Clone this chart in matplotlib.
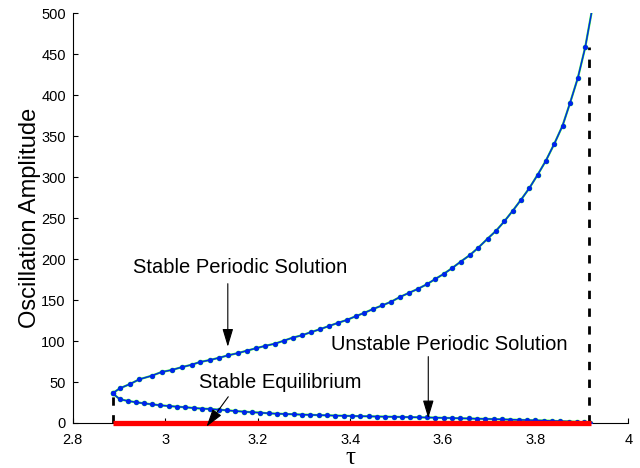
import numpy as np
import matplotlib.pyplot as plt

plt.rcParams['font.family'] = ['Liberation Sans', 'DejaVu Sans']

# upper (stable periodic) branch
tau_up = [2.886, 2.902, 2.924, 2.944, 2.971, 2.992, 3.014, 3.035, 3.057, 3.075,
          3.097, 3.117, 3.136, 3.158, 3.176, 3.196, 3.215, 3.237, 3.256, 3.275,
          3.295, 3.314, 3.334, 3.354, 3.372, 3.392, 3.411, 3.429, 3.449, 3.469,
          3.488, 3.507, 3.526, 3.545, 3.565, 3.583, 3.601, 3.620, 3.638, 3.658,
          3.676, 3.696, 3.714, 3.732, 3.750, 3.768, 3.786, 3.804, 3.822, 3.840,
          3.858, 3.874, 3.891, 3.907]
amp_up = [36.2, 42.3, 47.6, 53.3, 57.7, 62.2, 64.7, 68.0, 71.1, 74.4,
          76.9, 79.7, 82.6, 85.4, 88.2, 91.2, 94.0, 96.8, 100.4, 104.1,
          107.0, 110.7, 114.4, 118.4, 122.0, 125.7, 130.2, 134.2, 139.1, 143.6,
          148.0, 153.8, 158.7, 163.5, 169.3, 175.7, 181.8, 189.2, 196.9, 205.0,
          213.9, 224.9, 234.3, 245.9, 258.7, 272.2, 286.4, 302.7, 320.1, 340.5,
          362.8, 390.2, 421.0, 458.5]
tau_up_end = 3.921
amp_up_end = 502

# lower (unstable periodic) branch
tau_lo = [2.886, 2.902, 2.920, 2.937, 2.953, 2.971, 2.989, 3.007, 3.025, 3.043,
          3.061, 3.079, 3.097, 3.115, 3.133, 3.151, 3.169, 3.187, 3.205, 3.223,
          3.241, 3.259, 3.277, 3.295, 3.313, 3.331, 3.349, 3.367, 3.385, 3.403,
          3.421, 3.439, 3.457, 3.475, 3.493, 3.511, 3.529, 3.547, 3.565, 3.583,
          3.601, 3.619, 3.637, 3.655, 3.673, 3.691, 3.709, 3.727, 3.745, 3.763,
          3.781, 3.799, 3.817, 3.835, 3.853, 3.871, 3.889, 3.905, 3.918]
amp_lo = [36.2, 28.9, 26.8, 25.3, 24.0, 22.8, 21.6, 20.7, 19.9, 19.2,
          18.3, 17.5, 17.1, 16.2, 15.5, 14.6, 13.8, 13.1, 12.6, 11.8,
          11.3, 11.0, 10.6, 10.2, 9.9, 9.6, 9.3, 9.0, 8.8, 8.5,
          8.3, 8.1, 7.9, 7.7, 7.5, 7.3, 7.1, 6.9, 6.7, 6.5,
          6.2, 6.0, 5.7, 5.5, 5.2, 5.0, 4.7, 4.4, 4.1, 3.8,
          3.5, 3.2, 2.9, 2.6, 2.2, 1.8, 1.3, 0.8, 0.2]

# stable equilibrium and bifurcation markers
tau_eq = [2.886, 3.92]
amp_eq = [0, 0]
tau_fold = 2.886
amp_fold = 34
tau_hopf = 3.915
amp_hopf = 458.5

fig = plt.figure(figsize=(6.4, 4.68), dpi=100)
ax = fig.add_axes([0.1136, 0.0962, 0.8681, 0.8754])

ax.plot(tau_up + [tau_up_end], amp_up + [amp_up_end], color='#33ee33', lw=1.6, zorder=2)
ax.plot(tau_up, amp_up, ls='', marker='o', ms=3, color='#33ee33', zorder=2)
ax.plot(tau_lo, amp_lo, color='#33ee33', lw=1.6, marker='o', ms=3, zorder=2)
ax.plot(tau_up + [tau_up_end], amp_up + [amp_up_end], color='#0022ee', lw=1, zorder=3)
ax.plot(tau_up, amp_up, ls='', marker='o', ms=2.6, color='#0022ee', zorder=3)
ax.plot(tau_lo, amp_lo, color='#0022ee', lw=1, marker='o', ms=2.6, zorder=3)

ax.plot([tau_fold, tau_fold], [0, amp_fold], color='black', lw=2, dashes=(3, 3.4), zorder=4)
ax.plot([tau_hopf, tau_hopf], [0, amp_hopf], color='black', lw=2, dashes=(3, 3.4), zorder=4)
ax.plot(tau_eq, amp_eq, color='#ff0000', lw=3.8, solid_capstyle='butt', zorder=5, clip_on=False)

arrow = dict(arrowstyle='-|>,head_length=1.1,head_width=0.33', color='black', lw=0.8,
             shrinkA=0, shrinkB=0, mutation_scale=10)
ax.text(3.161, 189.8, 'Stable Periodic Solution', ha='center', va='center', fontsize=14.5)
ax.annotate('', xy=(3.135, 93), xytext=(3.135, 170), arrowprops=arrow, zorder=6)
ax.text(3.248, 49.4, 'Stable Equilibrium', ha='center', va='center', fontsize=14.5)
ax.annotate('', xy=(3.089, -4.5), xytext=(3.136, 32), arrowprops=arrow,
            annotation_clip=False, zorder=6)
ax.text(3.613, 96.2, 'Unstable Periodic Solution', ha='center', va='center', fontsize=14.5)
ax.annotate('', xy=(3.568, 5.7), xytext=(3.568, 81), arrowprops=arrow, zorder=6)

ax.set_xlim(2.8, 4)
ax.set_ylim(0, 500)
ax.set_xticks([2.8, 3, 3.2, 3.4, 3.6, 3.8, 4])
ax.set_xticklabels(['2.8', '3', '3.2', '3.4', '3.6', '3.8', '4'])
ax.set_yticks(np.arange(0, 501, 50))
ax.tick_params(direction='in', length=3.5, labelsize=10.5)
ax.tick_params(axis='x', pad=7)
ax.tick_params(axis='y', pad=5)
ax.spines['top'].set_visible(False)
ax.spines['right'].set_visible(False)
ax.set_xlabel('τ', fontsize=18, family=['Liberation Serif', 'DejaVu Serif'], labelpad=0)
ax.set_ylabel('Oscillation Amplitude', fontsize=17, labelpad=0)

fig.savefig('out.png', dpi=100)
